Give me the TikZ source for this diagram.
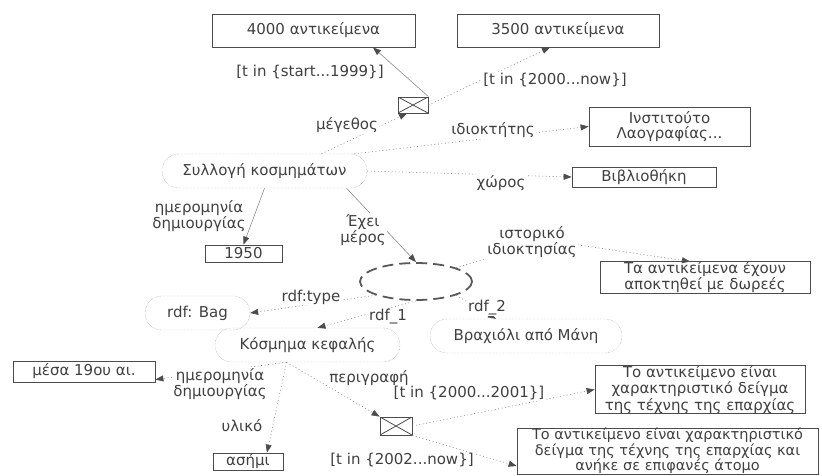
\documentclass[tikz,border=0pt]{standalone}
\usepackage{fontspec}
\setmainfont{DejaVu Sans}
\usetikzlibrary{arrows.meta,shapes.misc,shapes.geometric}

\begin{document}
\begin{tikzpicture}[x=1pt,y=-1pt,
        every node/.style={font=\fontsize{15}{14.5}\selectfont,text=black!75},
        valbox/.style={draw=black!70,line width=0.8pt,align=center,inner sep=0pt},
        resnode/.style={rounded rectangle,draw=black!45,densely dotted,inner sep=0pt,minimum height=34pt},
        timebox/.style={draw=black!70,line width=0.8pt,inner sep=0pt,
            path picture={\draw[black!70,line width=0.8pt]
                (path picture bounding box.north west) -- (path picture bounding box.south east)
                (path picture bounding box.north east) -- (path picture bounding box.south west);}},
        lbl/.style={fill=white,inner sep=1pt,align=center},
        link/.style={draw=black!45,line width=0.6pt,-{Triangle[length=8pt,width=6pt,color=black!70]}},
        dotlink/.style={link,dash pattern=on 1pt off 2.5pt}]
        \useasboundingbox (0,0) rectangle (822,475);

        % values and resources
        \node (box4000)     at (313.5,30.5)  [valbox,minimum width=203pt,minimum height=33pt] {4000 αντικείμενα};
        \node (box3500)     at (558,30.5)    [valbox,minimum width=202pt,minimum height=33pt] {3500 αντικείμενα};
        \node (tbsize)      at (413,105)     [timebox,minimum width=30pt,minimum height=16pt] {};
        \node (syllogi)     at (264.5,171)   [resnode,minimum width=205pt] {Συλλογή κοσμημάτων};
        \node (instituto)   at (669.5,126.5) [valbox,minimum width=161pt,minimum height=39pt] {Ινστιτούτο\\Λαογραφίας...};
        \node (vivliothiki) at (644,177)     [valbox,minimum width=144pt,minimum height=20pt] {Βιβλιοθήκη};
        \node (y1950)       at (243.5,253.5) [valbox,minimum width=77pt,minimum height=17pt] {1950};
        \node (merh)        at (416,281.5)   [ellipse,draw=black!65,line width=1.8pt,dash pattern=on 11pt off 6pt,
                                              minimum width=112pt,minimum height=37pt] {};
        \node (dorees)      at (705,277.5)   [valbox,minimum width=210pt,minimum height=29pt] {Τα αντικείμενα έχουν\\αποκτηθεί με δωρεές};
        \node (bag)         at (197.5,313)   [resnode,minimum width=105pt] {rdf: Bag};
        \node (kosmima)     at (307.5,345)   [resnode,minimum width=185pt] {Κόσμημα κεφαλής};
        \node (vraxioli)    at (526,336)     [resnode,minimum width=192pt] {Βραχιόλι από Μάνη};
        \node (mesa19)      at (84,371.5)    [valbox,minimum width=142pt,minimum height=21pt] {μέσα 19ου αι.};
        \node (asimi)       at (248,461.5)   [valbox,minimum width=70pt,minimum height=17pt] {ασήμι};
        \node (tbdesc)      at (396,426)     [timebox,minimum width=32pt,minimum height=18pt] {};
        \node (deigma)      at (700,389.5)   [valbox,minimum width=210pt,minimum height=45pt]
              {Το αντικείμενο είναι\\χαρακτηριστικό δείγμα\\της τέχνης της επαρχίας};
        \node (atomo)       at (667.5,451)   [valbox,minimum width=301pt,minimum height=40pt,
                                              font=\fontsize{14.5}{13}\selectfont]
              {Το αντικείμενο είναι χαρακτηριστικό\\δείγμα της τέχνης της επαρχίας και\\ανήκε σε επιφανές άτομο};

        % properties
        \draw[link] (tbsize.north east) -- ([xshift=59.5pt]box4000.south);
        \draw[dotlink] (tbsize.east) -- ([xshift=-8pt]box3500.south);
        \draw[dotlink] ([xshift=57pt]syllogi.north) -- ([xshift=-6pt]tbsize.south);
        \draw[dotlink] ([xshift=90pt]syllogi.north) -- (instituto.west);
        \draw[dotlink] (syllogi.east) -- (vivliothiki.west);
        \draw[link] (syllogi.south) -- (y1950.north);
        \draw[link] ([xshift=82pt]syllogi.south) -- (merh.north);
        \coordinate (histbend) at (545,240);
        \draw[dotlink] (merh.north east) -- (histbend) -- ([xshift=-15pt]dorees.north);
        \draw[dotlink] (merh.south west) -- (bag.east);
        \draw[dotlink] (merh.south) -- ([xshift=10pt]kosmima.north);
        \draw[dotlink] (merh.south east) -- ([xshift=-30pt]vraxioli.north);
        \draw[dotlink] ([xshift=-21pt]kosmima.south) -- ([yshift=-8pt]mesa19.east);
        \draw[dotlink] ([xshift=-21pt]kosmima.south) -- ([xshift=19pt]asimi.north);
        \draw[dotlink] ([xshift=-21pt]kosmima.south) -- (tbdesc.north west);
        \draw[dotlink] (tbdesc.east) -- (deigma.west);
        \draw[dotlink] (tbdesc.south east) -- ([yshift=-15pt]atomo.west);

        % property labels
        \node (lblstart) at (310,72)   [lbl] {[t in \{start...1999\}]};
        \node (lblnow)   at (555,80)   [lbl] {[t in \{2000...now\}]};
        \node (lblsize)  at (347,125)  [lbl] {μέγεθος};
        \node (lblowner) at (493,130)  [lbl] {ιδιοκτήτης};
        \node (lblplace) at (501,183)  [lbl] {χώρος};
        \node (lbldate)  at (199,216)  [lbl] {ημερομηνία\\δημιουργίας};
        \node (lblpart)  at (363,230)  [lbl] {Έχει\\μέρος};
        \node (lblhist)  at (532,242)  [lbl] {ιστορικό\\ιδιοκτησίας};
        \node (lbltype)  at (311,297)  [lbl] {rdf:type};
        \node (lblone)   at (388,317)  [lbl] {rdf\_1};
        \node (lbltwo)   at (487,308)  [lbl] {rdf\_2};
        \node (lbldate2) at (220,384)  [lbl] {ημερομηνία\\δημιουργίας};
        \node (lblmat)   at (242,426)  [lbl] {υλικό};
        \node (lbldesc)  at (369,378)  [lbl] {περιγραφή};
        \node (lbly1)    at (469,393)  [lbl] {[t in \{2000...2001\}]};
        \node (lbly2)    at (402,460)  [lbl] {[t in \{2002...now\}]};
\end{tikzpicture}
\end{document}
